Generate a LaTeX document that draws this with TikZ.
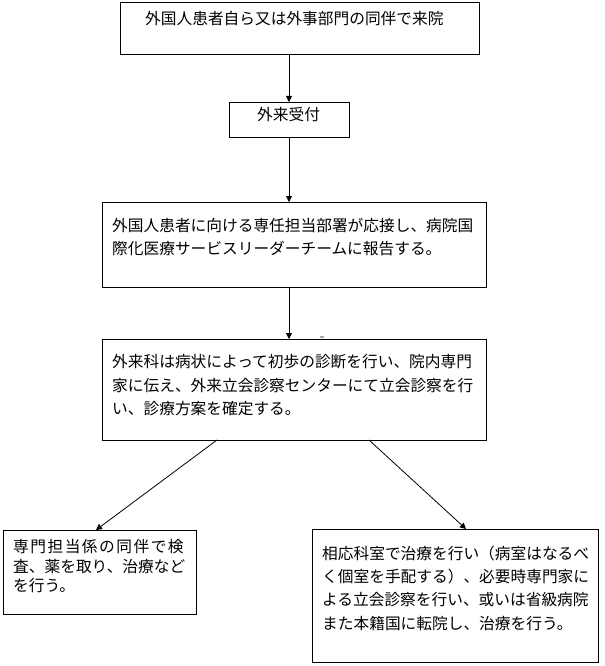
\documentclass[tikz,border=0pt]{standalone}
\usepackage{fontspec}
\newfontfamily\jp{Noto Sans CJK JP}
\usetikzlibrary{arrows.meta}
\begin{document}
\begin{tikzpicture}[x=1bp,y=-1bp,
  box/.style={draw=black,line width=0.9bp,anchor=north west,inner sep=0pt,outer sep=0pt},
  txt/.style={anchor=base west,inner sep=0pt,text width=400bp,align=left,
              font=\jp\fontsize{15.7bp}{#1}\selectfont},
  txt/.default={23.3bp},
  arr/.style={line width=0.8bp,-{Triangle[length=6bp,width=6bp]}}]
\useasboundingbox[fill=white] (0,0) rectangle (605,666);
% boxes
\node[box,minimum width=359bp,minimum height=52bp] (top) at (120,2) {};
\node[box,minimum width=120bp,minimum height=35bp] (b2) at (229,102) {};
\node[box,minimum width=384bp,minimum height=85bp] (b3) at (102,202) {};
\node[box,minimum width=384bp,minimum height=101bp] (b4) at (102,339) {};
\node[box,minimum width=193bp,minimum height=84bp] (b5) at (3,530) {};
\node[box,minimum width=286bp,minimum height=133bp] (b6) at (312,529) {};
% texts
\node[txt] (t1) at (145,25) {外国人患者自ら又は外事部門の同伴で来院};
\node[txt] (t2) at (257,121) {外来受付};
\node[txt] (t3) at (112,231) {外国人患者に向ける専任担当部署が応接し、病院国\\際化医療サービスリーダーチームに報告する。};
\node[txt] (t4) at (112,367.7) {外来科は病状によって初歩の診断を行い、院内専門\\家に伝え、外来立会診察センターにて立会診察を行\\い、診療方案を確定する。};
\def\g{\kern1.5bp}
\node[txt=19.5bp] (t5) at (13,552.7) {専\g 門\g 担\g 当\g 係\g の\g 同\g 伴\g で\g 検\\査、薬を取り、治療など\\を行う。};
\node[txt] (t6) at (322,559.3) {相応科室で治療を行い（病室はなるべ\\く個室を手配する）、必要時専門家に\\よる立会診察を行い、或いは省級病院\\また本籍国に転院し、治療を行う。};
% connectors
\draw[arr] (top.south -| b2.north) -- (b2.north);
\draw[arr] (b2.south) -- (b2.south |- b3.north);
\draw[arr] (b3.south -| b2.south) -- (b4.north -| b2.south);
\draw[arr] ([xshift=115bp]b4.south west) -- ([xshift=93bp]b5.north west);
\draw[arr] ([xshift=267bp]b4.south west) -- ([xshift=154bp]b6.north west);
% stray mark
\fill[gray!70] (320,335.5) rectangle (323.5,337.5);
\end{tikzpicture}
\end{document}
